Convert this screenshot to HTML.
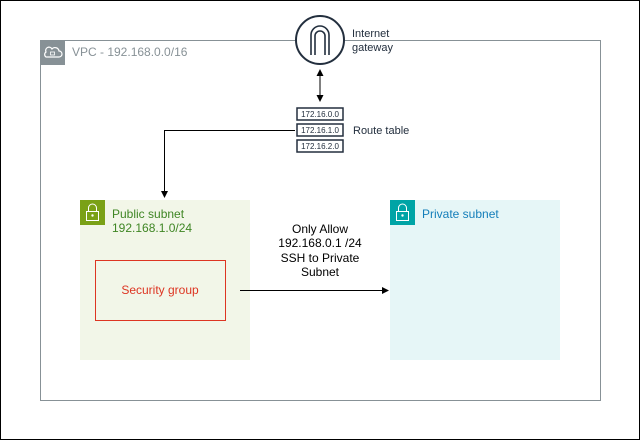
<!DOCTYPE html>
<html><head><style>
body{margin:0;width:641px;height:441px;overflow:hidden;background:#fff;font-family:"Liberation Sans",sans-serif;}
</style></head><body>
<svg width="641" height="441" xmlns="http://www.w3.org/2000/svg" font-family="Liberation Sans, sans-serif">
<rect x="0.5" y="0.5" width="639" height="439" fill="#fff" stroke="#000"/>
<rect x="40.5" y="40.5" width="560" height="360" fill="none" stroke="#879196"/>
<rect x="40" y="40" width="25" height="25" fill="#879196"/>
<path d="M46 57 h13 a3 3 0 0 0 0-6 a4 4 0 0 0-7-2 a3 3 0 0 0-6 3 a3 3 0 0 0 0 5z" fill="none" stroke="#fff" stroke-width="1.2"/>
<rect x="50.5" y="52" width="4" height="3" fill="none" stroke="#fff" stroke-width="0.8"/>
<text x="72" y="56" font-size="12" fill="#879196">VPC - 192.168.0.0/16</text>
<rect x="80" y="200" width="170" height="160" fill="#f2f6e8"/>
<rect x="80" y="200" width="25" height="25" fill="#7aa116"/>
<rect x="86.5" y="211.5" width="12" height="9" fill="none" stroke="#fff"/>
<path d="M88.5 211 v-3 a4 4 0 0 1 8 0 v3" fill="none" stroke="#fff"/>
<circle cx="92.5" cy="215.5" r="1.2" fill="#fff"/>
<text x="112" y="218" font-size="12" fill="#3f8624">Public subnet</text>
<text x="112" y="232" font-size="12" fill="#3f8624">192.168.1.0/24</text>
<rect x="95.5" y="260.5" width="130" height="60" fill="none" stroke="#dd3522"/>
<text x="160" y="294" font-size="12" fill="#dd3522" text-anchor="middle">Security group</text>
<rect x="390" y="200" width="170" height="160" fill="#e6f6f7"/>
<rect x="390" y="200" width="25" height="25" fill="#00a4a6"/>
<rect x="396.5" y="211.5" width="12" height="9" fill="none" stroke="#fff"/>
<path d="M398.5 211 v-3 a4 4 0 0 1 8 0 v3" fill="none" stroke="#fff"/>
<circle cx="402.5" cy="215.5" r="1.2" fill="#fff"/>
<text x="422" y="218" font-size="12" fill="#147eba">Private subnet</text>
<circle cx="320" cy="40" r="24" fill="#fff" stroke="#232f3e" stroke-width="2"/>
<path d="M311 55 V35 a9 9 0 0 1 18 0 V55 M315 55 V36 a5 5 0 0 1 10 0 V55" fill="none" stroke="#232f3e" stroke-width="1.6"/>
<text x="352" y="37" font-size="11" fill="#232f3e">Internet</text>
<text x="352" y="51" font-size="11" fill="#232f3e">gateway</text>
<line x1="320" y1="75" x2="320" y2="96" stroke="#000"/>
<path d="M320 69 l-3.5 7 h7z M320 102 l-3.5-7 h7z" fill="#000"/>
<g font-size="8" fill="#232f3e" text-anchor="middle">
<rect x="297" y="108" width="46" height="12" fill="#fff" stroke="#232f3e" stroke-width="1.5"/><text x="320" y="117">172.16.0.0</text>
<rect x="297" y="124" width="46" height="12" fill="#fff" stroke="#232f3e" stroke-width="1.5"/><text x="320" y="133">172.16.1.0</text>
<rect x="297" y="140" width="46" height="12" fill="#fff" stroke="#232f3e" stroke-width="1.5"/><text x="320" y="149">172.16.2.0</text>
</g>
<text x="353" y="134" font-size="11" fill="#232f3e">Route table</text>
<path d="M295 130.5 H164.5 V192" fill="none" stroke="#000"/>
<path d="M164.5 198 l-3.5-7 h7z" fill="#000"/>
<line x1="240" y1="290.5" x2="382" y2="290.5" stroke="#000"/>
<path d="M389 290.5 l-7-3.5 v7z" fill="#000"/>
<g font-size="12" fill="#000" text-anchor="middle">
<text x="320" y="233">Only Allow</text>
<text x="320" y="247">192.168.0.1 /24</text>
<text x="320" y="262">SSH to Private</text>
<text x="320" y="276">Subnet</text>
</g>
</svg>
</body></html>
